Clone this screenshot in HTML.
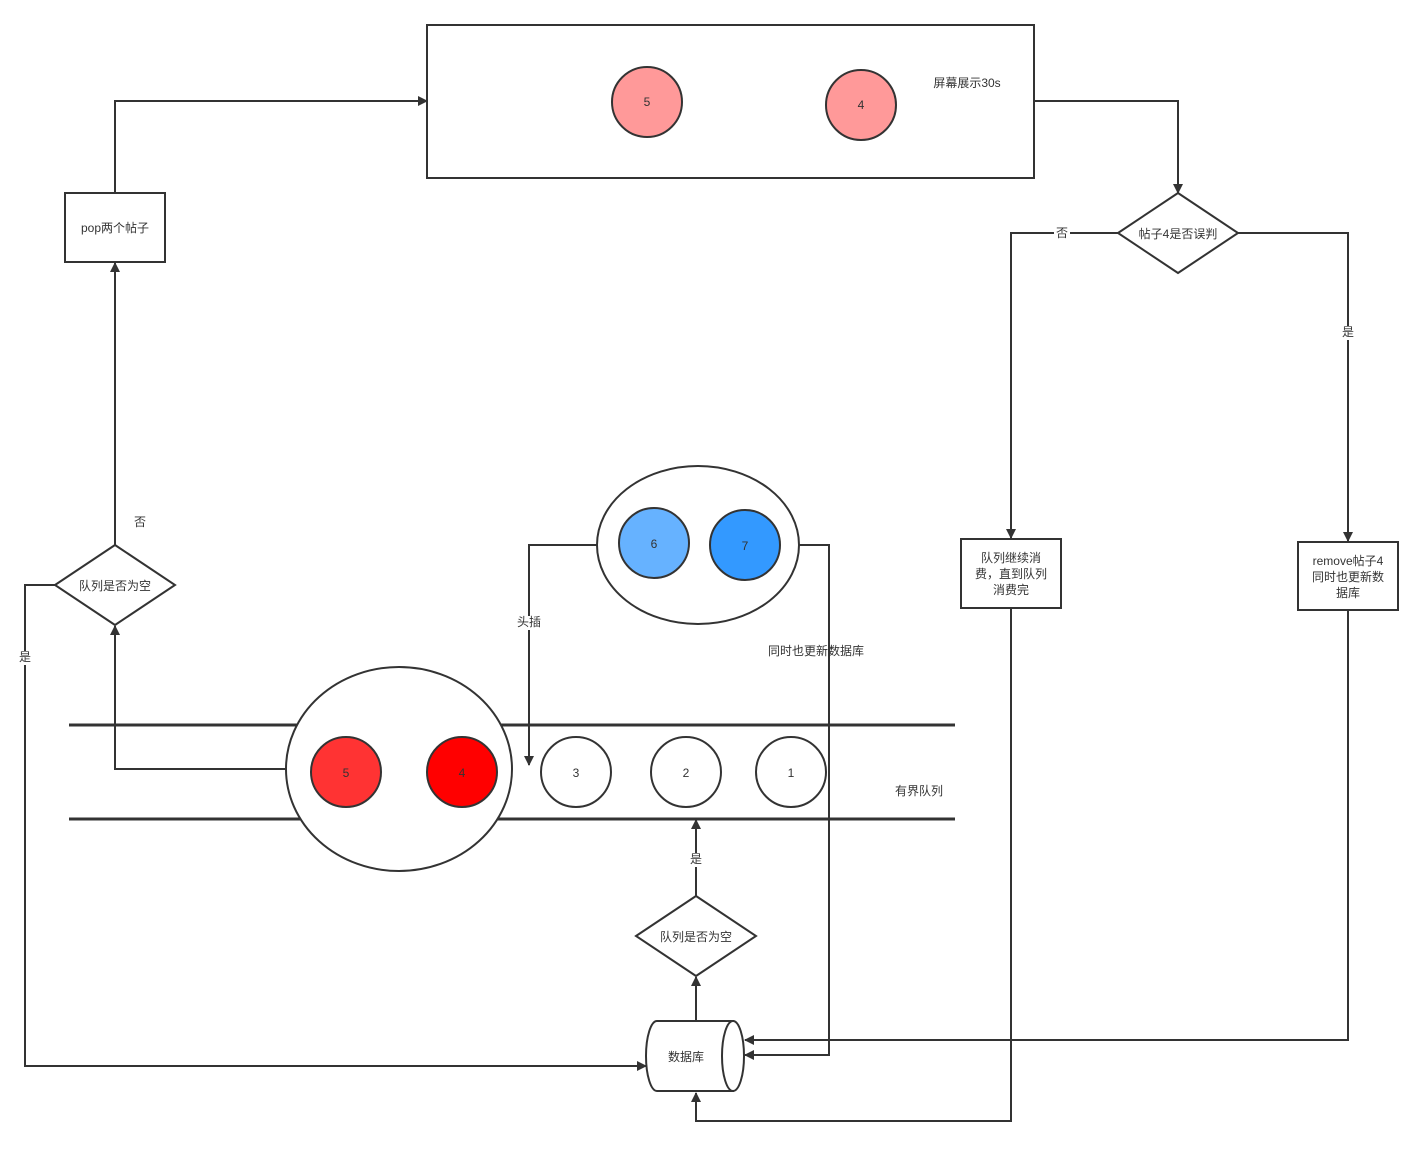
<!DOCTYPE html>
<html><head><meta charset="utf-8"><style>
body{margin:0;background:#fff}
text{font-family:"Liberation Sans","Noto Sans CJK SC",sans-serif;font-size:12px;fill:#333;text-anchor:middle;dominant-baseline:middle}
</style></head><body>
<svg width="1423" height="1146" viewBox="0 0 1423 1146" xmlns="http://www.w3.org/2000/svg">
<defs><marker id="a" markerWidth="10" markerHeight="10" refX="9" refY="5" orient="auto" markerUnits="userSpaceOnUse"><path d="M0,0 L10,5 L0,10 z" fill="#333"/></marker></defs>
<g stroke="#333" stroke-width="2" fill="none">
<rect x="427" y="25" width="607" height="153" fill="#fff"/>
<polyline points="1034,101 1178,101 1178,193" marker-end="url(#a)"/>
<polygon points="1118,233 1178,193 1238,233 1178,273" fill="#fff"/>
<polyline points="1118,233 1011,233 1011,538" marker-end="url(#a)"/>
<polyline points="1238,233 1348,233 1348,541" marker-end="url(#a)"/>
<rect x="961" y="539" width="100" height="69" fill="#fff"/>
<rect x="1298" y="542" width="100" height="68" fill="#fff"/>
<polyline points="1348,610 1348,1040 745,1040" marker-end="url(#a)"/>
<polyline points="1011,608 1011,1121 696,1121 696,1093" marker-end="url(#a)"/>
<rect x="65" y="193" width="100" height="69" fill="#fff"/>
<polyline points="115,193 115,101 427,101" marker-end="url(#a)"/>
<polyline points="115,545 115,263" marker-end="url(#a)"/>
<polyline points="55,585 25,585 25,1066 646,1066" marker-end="url(#a)"/>
<polyline points="287,769 115,769 115,626" marker-end="url(#a)"/>
<line x1="69" y1="725" x2="955" y2="725" stroke-width="3"/>
<line x1="69" y1="819" x2="955" y2="819" stroke-width="3"/>
<ellipse cx="399" cy="769" rx="113" ry="102" fill="#fff"/>
<polyline points="597,545 529,545 529,765" marker-end="url(#a)"/>
<polyline points="799,545 829,545 829,1055 745,1055" marker-end="url(#a)"/>
<ellipse cx="698" cy="545" rx="101" ry="79" fill="#fff"/>
<polyline points="696,896 696,820" marker-end="url(#a)"/>
<polygon points="55,585 115,545 175,585 115,625" fill="#fff"/>
<polygon points="636,936 696,896 756,936 696,976" fill="#fff"/>
<polyline points="696,1021 696,977" marker-end="url(#a)"/>
<path d="M657,1021 L733,1021 L733,1091 L657,1091 A11,35 0 0 1 657,1021 Z" fill="#fff"/>
<ellipse cx="733" cy="1056" rx="11" ry="35" fill="#fff"/>
</g>
<g stroke="#333" stroke-width="2">
<circle cx="647" cy="102" r="35" fill="#FF9999"/>
<circle cx="861" cy="105" r="35" fill="#FF9999"/>
<circle cx="346" cy="772" r="35" fill="#FF3333"/>
<circle cx="462" cy="772" r="35" fill="#FF0000"/>
<circle cx="576" cy="772" r="35" fill="#fff"/>
<circle cx="686" cy="772" r="35" fill="#fff"/>
<circle cx="791" cy="772" r="35" fill="#fff"/>
<circle cx="654" cy="543" r="35" fill="#66B2FF"/>
<circle cx="745" cy="545" r="35" fill="#3399FF"/>
</g>
<text x="647" y="103">5</text><text x="861" y="106">4</text>
<text x="346" y="774">5</text><text x="462" y="774">4</text>
<text x="576" y="774">3</text><text x="686" y="774">2</text><text x="791" y="774">1</text>
<text x="654" y="545">6</text><text x="745" y="547">7</text>
<text x="967" y="84">屏幕展示30s</text>
<text x="1178" y="235">帖子4是否误判</text>
<rect x="1054" y="227" width="16" height="14" fill="#fff"/><text x="1062" y="234">否</text>
<rect x="1340" y="326" width="16" height="14" fill="#fff"/><text x="1348" y="333">是</text>
<text x="1011" y="559">队列继续消</text><text x="1011" y="575">费，直到队列</text><text x="1011" y="591">消费完</text>
<text x="1348" y="562">remove帖子4</text><text x="1348" y="578">同时也更新数</text><text x="1348" y="594">据库</text>
<text x="115" y="229">pop两个帖子</text>
<text x="115" y="587">队列是否为空</text>
<text x="140" y="523">否</text>
<rect x="17" y="651" width="16" height="14" fill="#fff"/><text x="25" y="658">是</text>
<rect x="516" y="616" width="26" height="14" fill="#fff"/><text x="529" y="623">头插</text>
<text x="816" y="652">同时也更新数据库</text>
<text x="919" y="792">有界队列</text>
<rect x="688" y="853" width="16" height="14" fill="#fff"/><text x="696" y="860">是</text>
<text x="696" y="938">队列是否为空</text>
<text x="686" y="1058">数据库</text>
</svg>
</body></html>
